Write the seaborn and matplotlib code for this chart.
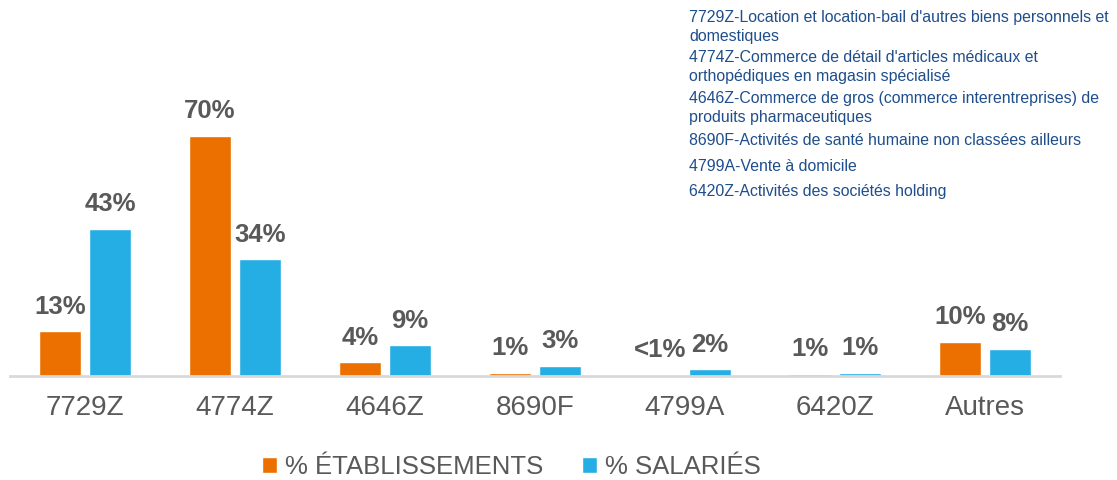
import numpy as np
import pandas as pd
import matplotlib.pyplot as plt
import seaborn as sns

# codes NAF et parts (%)
codes = ['7729Z', '4774Z', '4646Z', '8690F', '4799A', '6420Z', 'Autres']
etablissements = [13, 70, 4, 1, 0.3, 0.6, 10]
salaries = [43, 34, 9, 3, 2, 1, 8]
labels_etab = ['13%', '70%', '4%', '1%', '<1%', '1%', '10%']
labels_sal = ['43%', '34%', '9%', '3%', '2%', '1%', '8%']
series = ['% ÉTABLISSEMENTS', '% SALARIÉS']

notes = [
    "7729Z-Location et location-bail d'autres biens personnels et\ndomestiques",
    "4774Z-Commerce de détail d'articles médicaux et\northopédiques en magasin spécialisé",
    "4646Z-Commerce de gros (commerce interentreprises) de\nproduits pharmaceutiques",
    "8690F-Activités de santé humaine non classées ailleurs",
    "4799A-Vente à domicile",
    "6420Z-Activités des sociétés holding",
]

df = pd.DataFrame({
    'code': codes * 2,
    'serie': [series[0]] * len(codes) + [series[1]] * len(codes),
    'valeur': etablissements + salaries,
})

sns.set_theme(style='white')
plt.rcParams['font.family'] = ['Liberation Sans', 'DejaVu Sans']

fig = plt.figure(figsize=(11.17, 4.8), dpi=100)
ax = fig.add_axes([10 / 1117, 104 / 480, 1050 / 1117, 276 / 480])

sns.barplot(data=df, x='code', y='valeur', hue='serie', order=codes,
            hue_order=series, palette=['#EC7000', '#25AEE3'],
            width=0.667, gap=0.16, saturation=1, ax=ax, legend=True)

ax.bar_label(ax.containers[0], labels=labels_etab, padding=9, fontsize=18.5,
             fontweight='bold', color='#595959')
ax.bar_label(ax.containers[1], labels=labels_sal, padding=9, fontsize=18.5,
             fontweight='bold', color='#595959')

ax.set_xlim(-0.5, 6.5)
ax.set_ylim(0, 80.5)
ax.set_xlabel('')
ax.set_ylabel('')
ax.set_yticks([])
ax.tick_params(axis='x', length=0, pad=14, labelsize=20, labelcolor='#595959')
for s in ['top', 'right', 'left']:
    ax.spines[s].set_visible(False)
ax.spines['bottom'].set_color('#D9D9D9')
ax.spines['bottom'].set_linewidth(2)

ax.legend(loc='center', bbox_to_anchor=(511 / 1117, 13 / 480),
          bbox_transform=fig.transFigure, ncol=2, frameon=False,
          fontsize=18.5, labelcolor='#595959', handlelength=0.6,
          handleheight=0.6, handletextpad=0.3, columnspacing=1.5)

# légende des codes en haut à droite
tops = [10, 50, 91, 133, 159, 184]
for txt, y in zip(notes, tops):
    fig.text(689 / 1117, 1 - y / 480, txt, fontsize=11.4, color='#1F4E8C',
             va='top', ha='left', linespacing=1.3)

fig.savefig('out.png', dpi=100)
